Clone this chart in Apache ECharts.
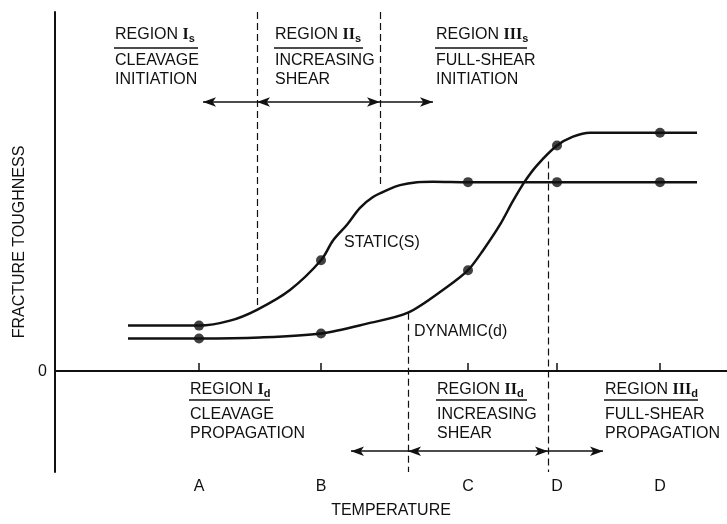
<!DOCTYPE html>
<html>
<head>
<meta charset="utf-8">
<script src="https://cdn.jsdelivr.net/npm/echarts@6/dist/echarts.min.js"></script>
<style>
  html, body { margin: 0; padding: 0; background: #fff; }
  #chart { width: 727px; height: 524px; }
</style>
</head>
<body>
<div id="chart"></div>
<script>
// Temperature ticks (arbitrary temperature units) and their letters
const xTickValues = [14.4, 26.6, 41.3, 50.2, 60.5];
const xTickLabels = ['A', 'B', 'C', 'D', 'D'];

// Fracture toughness vs temperature, static loading
const staticCurve = [
  [7.3, 4.6], [14.4, 4.6], [17.5, 5.1], [20.2, 6.2], [23.5, 8.2],
  [26.6, 11.2], [27.8, 13.2], [29.2, 14.8], [30.5, 16.5], [31.8, 17.6],
  [33.2, 18.3], [34.5, 18.8], [36.2, 19.1], [37.8, 19.15], [41.3, 19.1],
  [50.2, 19.1], [60.5, 19.1], [64.2, 19.1]
];
// Fracture toughness vs temperature, dynamic loading
const dynamicCurve = [
  [7.3, 3.3], [14.4, 3.3], [20.5, 3.4], [26.6, 3.8], [31.2, 4.8],
  [35.3, 5.9], [39.2, 8.5], [41.3, 10.2], [42.8, 12.2], [44.5, 14.8],
  [45.8, 17.2], [47.0, 19.2], [48.2, 20.8], [50.2, 22.8], [51.8, 23.7],
  [53.5, 24.1], [60.5, 24.1], [64.2, 24.1]
];
// Measured points marked on each curve
const staticDots = [[14.4, 4.6], [26.6, 11.2], [41.3, 19.1], [50.2, 19.1], [60.5, 19.1]];
const dynamicDots = [[14.4, 3.3], [26.6, 3.8], [41.3, 10.2], [50.2, 22.8], [60.5, 24.1]];

// Region boundaries: [temperature, from toughness, to toughness]
const boundaries = [[20.2, 36.3, 6.2], [32.5, 36.3, 18.5], [35.3, 5.9, -10.2], [49.3, 21.2, -10.2]];
// Region extent arrows: [from, to, level, double-headed]
const regionArrows = [
  [20.2, 14.8, 27.2, false], [20.2, 32.5, 27.2, true], [32.5, 37.8, 27.2, false],
  [35.3, 29.6, -8.1, false], [35.3, 49.3, -8.1, true], [49.3, 54.8, -8.1, false]
];

const INK = '#111';
const FONT = 'Liberation Sans, Arial, sans-serif';

const chart = echarts.init(document.getElementById('chart'), null, { renderer: 'canvas' });

const boundaryLines = boundaries.map(b => [
  { coord: [b[0], b[1]], symbol: 'none' },
  { coord: [b[0], b[2]], symbol: 'none' }
]);
const arrowLines = regionArrows.map(a => [
  { coord: [a[0], a[2]], symbol: a[3] ? 'arrow' : 'none' },
  { coord: [a[1], a[2]], symbol: 'arrow' }
]);

// Region heading: "REGION <numeral><subscript>" with two descriptive lines below
function regionLabel(x, y, numeral, sub, line2, line3, ruleLen, ruleDy, gap) {
  return {
    type: 'group',
    children: [
      {
        type: 'text', x: x, y: y,
        style: {
          text: '{t|REGION }{n|' + numeral + '}{s|' + sub + '}',
          verticalAlign: 'middle',
          rich: {
            t: { font: '16px ' + FONT, fill: INK },
            n: { font: 'bold 16px Liberation Serif, serif', fill: INK },
            s: { font: 'bold 11px ' + FONT, fill: INK, verticalAlign: 'bottom', padding: [8, 0, 0, 0] }
          }
        }
      },
      { type: 'line', shape: { x1: x - 1, y1: y + ruleDy, x2: x - 1 + ruleLen, y2: y + ruleDy }, style: { stroke: INK, lineWidth: 1.5 } },
      {
        type: 'text', x: x, y: y + gap,
        style: { text: line2 + '\n' + line3, font: '16px ' + FONT, fill: INK, lineHeight: 19, verticalAlign: 'top' }
      }
    ]
  };
}

const option = {
  animation: false,
  backgroundColor: '#fff',
  grid: { left: 55, right: 0, top: 12, bottom: 47, containLabel: false },
  xAxis: {
    type: 'value', min: 0, max: 67.2,
    name: 'TEMPERATURE', nameLocation: 'middle', nameGap: 31,
    nameTextStyle: { color: INK, fontSize: 16, fontFamily: FONT },
    axisLine: { lineStyle: { color: INK, width: 2 } },
    axisTick: { show: true, inside: true, length: 8, customValues: xTickValues, lineStyle: { color: INK, width: 1.5 } },
    axisLabel: {
      customValues: xTickValues, color: INK, fontSize: 16, fontFamily: FONT, margin: 7,
      formatter: v => xTickLabels[xTickValues.indexOf(v)] || ''
    },
    splitLine: { show: false }
  },
  yAxis: {
    type: 'value', min: -10.2, max: 36.3,
    name: 'FRACTURE TOUGHNESS', nameLocation: 'middle', nameRotate: 90, nameGap: 27,
    nameTextStyle: { color: INK, fontSize: 16, fontFamily: FONT },
    axisLine: { show: true, lineStyle: { color: INK, width: 2 } },
    axisTick: { show: false },
    axisLabel: { customValues: [0], color: INK, fontSize: 16, fontFamily: FONT, margin: 8 },
    splitLine: { show: false }
  },
  series: [
    {
      name: 'STATIC(S)', type: 'line', data: staticCurve, smooth: 0.3,
      showSymbol: false, lineStyle: { color: INK, width: 2.5 }, silent: true, z: 3
    },
    {
      name: 'DYNAMIC(d)', type: 'line', data: dynamicCurve, smooth: 0.3,
      showSymbol: false, lineStyle: { color: INK, width: 2.5 }, silent: true, z: 3
    },
    { type: 'scatter', data: staticDots, symbolSize: 10, itemStyle: { color: INK }, z: 4, silent: true },
    { type: 'scatter', data: dynamicDots, symbolSize: 10, itemStyle: { color: INK }, z: 4, silent: true },
    {
      type: 'line', data: [], silent: true,
      markLine: {
        silent: true, animation: false, symbol: 'none',
        label: { show: false },
        lineStyle: { color: INK, width: 1.5, type: 'solid' },
        data: [{ yAxis: 0 }]
      }
    },
    {
      type: 'line', data: [], silent: true,
      markLine: {
        silent: true, animation: false, symbol: 'none',
        label: { show: false },
        lineStyle: { color: INK, width: 1.2, type: [7, 4] },
        data: boundaryLines
      }
    },
    {
      type: 'line', data: [], silent: true,
      markLine: {
        silent: true, animation: false, symbolSize: [7, 13],
        label: { show: false },
        lineStyle: { color: INK, width: 1.5, type: 'solid' },
        data: arrowLines
      }
    }
  ],
  graphic: [
    regionLabel(115, 35, 'I', 's', 'CLEAVAGE', 'INITIATION', 84, 13, 16),
    regionLabel(275, 35, 'II', 's', 'INCREASING', 'SHEAR', 89, 13, 16),
    regionLabel(436, 35, 'III', 's', 'FULL-SHEAR', 'INITIATION', 92, 13, 16),
    regionLabel(190, 390, 'I', 'd', 'CLEAVAGE', 'PROPAGATION', 81, 10, 15),
    regionLabel(437, 390, 'II', 'd', 'INCREASING', 'SHEAR', 91, 10, 15),
    regionLabel(605, 390, 'III', 'd', 'FULL-SHEAR', 'PROPAGATION', 94, 10, 15),
    { type: 'text', x: 344, y: 243, style: { text: 'STATIC(S)', font: '16px ' + FONT, fill: INK, verticalAlign: 'middle' } },
    { type: 'text', x: 414, y: 332, style: { text: 'DYNAMIC(d)', font: '16px ' + FONT, fill: INK, verticalAlign: 'middle' } }
  ]
};

chart.setOption(option);
</script>
</body>
</html>
